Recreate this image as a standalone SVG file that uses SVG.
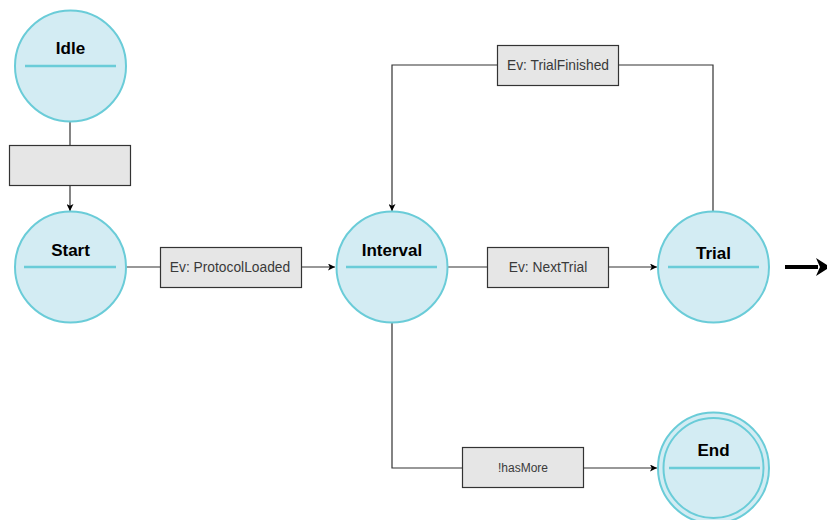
<svg xmlns="http://www.w3.org/2000/svg" width="827" height="520" viewBox="0 0 827 520">
<style>
.st{fill:#d3ecf3;stroke:#6accd8;stroke-width:2}
.div{stroke:#6accd8;stroke-width:2.5}
.ttl{font-family:"Liberation Sans",Arial,sans-serif;font-weight:bold;font-size:17px;fill:#000;text-anchor:middle}
.box{fill:#e6e6e6;stroke:#333;stroke-width:1.2}
.lbl{font-family:"Liberation Sans",Arial,sans-serif;font-size:13.8px;fill:#3a3a3a;text-anchor:middle}
.edge{fill:none;stroke:#333;stroke-width:1.2}
</style>
<defs>
<marker id="ah" viewBox="0 0 10 10" refX="10" refY="5" markerWidth="7" markerHeight="7" markerUnits="userSpaceOnUse" orient="auto">
<path d="M0,0 L10,5 L0,10 L2.5,5 Z" fill="#000"/>
</marker>
</defs>
<g id="connectors">
<path class="edge" d="M70,122 V145"/>
<path class="edge" d="M70,186 V211" marker-end="url(#ah)"/>
<path class="edge" d="M126,267 H160"/>
<path class="edge" d="M302,267 H335" marker-end="url(#ah)"/>
<path class="edge" d="M448,267 H487"/>
<path class="edge" d="M608,267 H657" marker-end="url(#ah)"/>
<path class="edge" d="M713,211 V65 H618"/>
<path class="edge" d="M497,65 H392 V211" marker-end="url(#ah)"/>
<path class="edge" d="M392,323 V468 H462"/>
<path class="edge" d="M583,468 H657" marker-end="url(#ah)"/>
<path d="M785,267 H818" fill="none" stroke="#000" stroke-width="4"/>
<path d="M816,258 L830,267 L816,276 L820,267 Z" fill="#000"/>
</g>
<g id="idle">
<circle class="st" cx="70.5" cy="66" r="55.5"/>
<line class="div" x1="25" y1="66" x2="116" y2="66"/>
<text class="ttl" x="70.5" y="54">Idle</text>
</g>
<g id="blank-label">
<rect class="box" x="9.5" y="145.5" width="121" height="40"/>
</g>
<g id="start">
<circle class="st" cx="70.5" cy="267" r="55.5"/>
<line class="div" x1="24" y1="267" x2="116" y2="267"/>
<text class="ttl" x="70.5" y="256">Start</text>
</g>
<g id="lbl-protocol">
<rect class="box" x="160.5" y="247.5" width="141" height="40"/>
<text class="lbl" x="230" y="272">Ev: ProtocolLoaded</text>
</g>
<g id="interval">
<circle class="st" cx="392" cy="267" r="55.5"/>
<line class="div" x1="346" y1="267" x2="437" y2="267"/>
<text class="ttl" x="392" y="256">Interval</text>
</g>
<g id="lbl-nexttrial">
<rect class="box" x="487.5" y="247.5" width="121" height="40"/>
<text class="lbl" x="548" y="272">Ev: NextTrial</text>
</g>
<g id="trial">
<circle class="st" cx="713.5" cy="267" r="55.5"/>
<line class="div" x1="668" y1="267" x2="759" y2="267"/>
<text class="ttl" x="713.5" y="259">Trial</text>
</g>
<g id="lbl-trialfinished">
<rect class="box" x="497.5" y="45.5" width="121" height="40"/>
<text class="lbl" x="558" y="70">Ev: TrialFinished</text>
</g>
<g id="lbl-hasmore">
<rect class="box" x="462.5" y="447.5" width="121" height="40"/>
<text class="lbl" x="523" y="472" style="font-size:12px">!hasMore</text>
</g>
<g id="end">
<circle class="st" cx="713.5" cy="468" r="55.5"/>
<circle cx="713.5" cy="468" r="50" fill="none" stroke="#6accd8" stroke-width="2"/>
<line class="div" x1="669" y1="468" x2="760" y2="468"/>
<text class="ttl" x="713.5" y="456">End</text>
</g>
</svg>
